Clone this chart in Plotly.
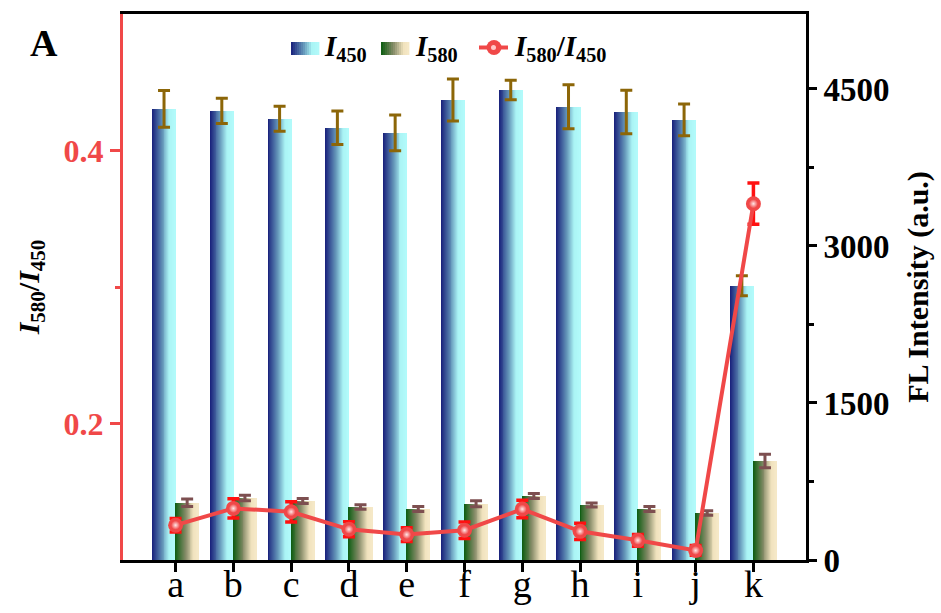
import numpy as np
import plotly.graph_objects as go

categories = ['a', 'b', 'c', 'd', 'e', 'f', 'g', 'h', 'i', 'j', 'k']
i450 = [4310, 4290, 4215, 4130, 4080, 4395, 4490, 4330, 4280, 4205, 2620]
i450_err = [175, 120, 120, 160, 170, 200, 92, 210, 207, 151, 96]
i580 = [547, 592, 564, 506, 487, 538, 611, 525, 487, 449, 946]
i580_err = [35, 27, 24, 21, 24, 29, 24, 19, 24, 22, 64]
ratio = [0.1255, 0.1378, 0.1353, 0.1225, 0.1186, 0.1218, 0.1373, 0.1210, 0.1144, 0.1070, 0.3610]
ratio_err = [0.0049, 0.0070, 0.0074, 0.0055, 0.0050, 0.0060, 0.0064, 0.0060, 0.0043, 0.0036, 0.0151]

FONT = 'Liberation Serif'
RED = '#f04848'

blue_stops = [(0.0, (23, 30, 122)), (0.45, (100, 150, 185)), (0.75, (170, 244, 245)), (1.0, (178, 250, 250))]
green_stops = [(0.0, (10, 92, 16)), (0.45, (135, 140, 105)), (0.8, (240, 226, 189)), (1.0, (246, 233, 200))]


def interp(stops, t):
    for (p0, c0), (p1, c1) in zip(stops[:-1], stops[1:]):
        if p0 <= t <= p1:
            f = (t - p0) / (p1 - p0) if p1 > p0 else 0
            c = [round(a + (b - a) * f) for a, b in zip(c0, c1)]
            return 'rgb(%d,%d,%d)' % tuple(c)
    return 'rgb(%d,%d,%d)' % stops[-1][1]


x = np.arange(len(categories))
BW = 0.4  # width of each bar
N = 24    # gradient strips per bar
sw = BW / N

fig = go.Figure()

for series, stops, base in [(i450, blue_stops, -BW), (i580, green_stops, 0.0)]:
    for j in range(N):
        t = (j + 0.5) / N
        wj = sw * 1.6 if j < N - 1 else sw
        fig.add_trace(go.Bar(
            x=x, y=series, offset=base + j * sw, width=wj,
            marker=dict(color=interp(stops, t), line=dict(width=0)),
            yaxis='y', showlegend=False, hoverinfo='skip'))

# error bars for bars
fig.add_trace(go.Scatter(
    x=x - BW / 2, y=i450, mode='markers', marker=dict(size=1, color='rgba(0,0,0,0)'),
    error_y=dict(type='data', array=i450_err, color='#8c6608', thickness=3, width=6),
    yaxis='y', showlegend=False, hoverinfo='skip'))
fig.add_trace(go.Scatter(
    x=x + BW / 2, y=i580, mode='markers', marker=dict(size=1, color='rgba(0,0,0,0)'),
    error_y=dict(type='data', array=i580_err, color='#7d4f50', thickness=3, width=6),
    yaxis='y', showlegend=False, hoverinfo='skip'))

# ratio line
fig.add_trace(go.Scatter(
    x=x, y=ratio, mode='lines+markers',
    line=dict(color=RED, width=4),
    marker=dict(size=15, color=RED, line=dict(width=0)),
    error_y=dict(type='data', array=ratio_err, color='#ff1010', thickness=3.5, width=6),
    yaxis='y2', showlegend=False, hoverinfo='skip'))
# highlight on the ratio markers
fig.add_trace(go.Scatter(
    x=x, y=ratio, mode='markers',
    marker=dict(size=9, color=RED, line=dict(width=0),
                gradient=dict(type='radial', color='#ffe8e8')),
    yaxis='y2', showlegend=False, hoverinfo='skip'))

# ---- manual legend (gradient swatches) ----
W_PLOT = 941 - 123 - 135
H_PLOT = 613 - 14 - 53


def px(xp):
    return (xp - 123) / W_PLOT


def py(yp):
    return (560 - yp) / H_PLOT


shapes = []
for (x0p, stops) in [(291, blue_stops), (381, green_stops)]:
    M = 14
    wpx = 28.0 / M
    for j in range(M):
        t = (j + 0.5) / M
        shapes.append(dict(type='rect', xref='paper', yref='paper',
                           x0=px(x0p + j * wpx), x1=px(x0p + (j + 1) * wpx + 0.4),
                           y0=py(55), y1=py(42), line=dict(width=0),
                           fillcolor=interp(stops, t), layer='above'))
shapes.append(dict(type='line', xref='paper', yref='paper', x0=px(479), x1=px(508),
                   y0=py(47.5), y1=py(47.5), line=dict(color=RED, width=4)))
shapes.append(dict(type='circle', xref='paper', yref='paper', x0=px(486.5), x1=px(501.5),
                   y0=py(55), y1=py(40), line=dict(width=0), fillcolor=RED))
shapes.append(dict(type='circle', xref='paper', yref='paper', x0=px(491), x1=px(496),
                   y0=py(50), y1=py(45), line=dict(width=0), fillcolor='#ffc8c8'))

annotations = [
    dict(text='<b><i>I</i><sub>450</sub></b>', x=px(322), y=py(48), xref='paper', yref='paper',
         xanchor='left', yanchor='middle', showarrow=False, font=dict(family=FONT, size=29, color='black')),
    dict(text='<b><i>I</i><sub>580</sub></b>', x=px(413), y=py(48), xref='paper', yref='paper',
         xanchor='left', yanchor='middle', showarrow=False, font=dict(family=FONT, size=29, color='black')),
    dict(text='<b><i>I</i><sub>580</sub>/<i>I</i><sub>450</sub></b>', x=px(512), y=py(48), xref='paper', yref='paper',
         xanchor='left', yanchor='middle', showarrow=False, font=dict(family=FONT, size=29, color='black')),
    dict(text='<b>A</b>', x=px(44), y=py(43), xref='paper', yref='paper',
         xanchor='center', yanchor='middle', showarrow=False, font=dict(family=FONT, size=38, color='black')),
]

fig.update_layout(
    width=941, height=613,
    margin=dict(l=123, r=135, t=14, b=53),
    plot_bgcolor='white', paper_bgcolor='white',
    barmode='overlay', bargap=0, showlegend=False,
    font=dict(family=FONT, color='black'),
    shapes=shapes, annotations=annotations,
    xaxis=dict(range=[-0.91, 10.91], tickmode='array', tickvals=list(x), ticktext=categories,
               ticks='outside', ticklen=9, tickwidth=3, tickcolor='black',
               showline=True, linecolor='black', linewidth=3, mirror=True,
               showgrid=False, zeroline=False, automargin=False,
               ticklabelstandoff=-21,
               tickfont=dict(family=FONT, size=38, color='black')),
    yaxis=dict(side='right', range=[0, 5216], tickmode='array', tickvals=[0, 1500, 3000, 4500],
               ticks='outside', ticklen=8, tickwidth=3, tickcolor='black',
               minor=dict(tickvals=[750, 2250, 3750], ticks='outside', ticklen=5, tickwidth=3, tickcolor='black'),
               showline=True, linecolor='black', linewidth=3,
               showgrid=False, zeroline=False, automargin=False,
               tickfont=dict(family=FONT, size=33, color='black', weight='bold'),
               title=dict(text='<b>FL Intensity (a.u.)</b>', standoff=19,
                          font=dict(family=FONT, size=30, color='black'))),
    yaxis2=dict(overlaying='y', side='left', range=[0.1, 0.5], tickmode='array',
                tickvals=[0.2, 0.4], ticktext=['0.2', '0.4'],
                ticks='outside', ticklen=10, tickwidth=3, tickcolor=RED,
                minor=dict(tickvals=[0.3], ticks='outside', ticklen=5, tickwidth=3, tickcolor=RED),
                showline=True, linecolor=RED, linewidth=3,
                showgrid=False, zeroline=False, automargin=False,
                tickfont=dict(family=FONT, size=32, color=RED, weight='bold'),
                title=dict(text='<b><i>I</i><sub>580</sub>/<i>I</i><sub>450</sub></b>', standoff=16,
                           font=dict(family=FONT, size=30, color='black'))),
)

fig.write_html('out.html')
